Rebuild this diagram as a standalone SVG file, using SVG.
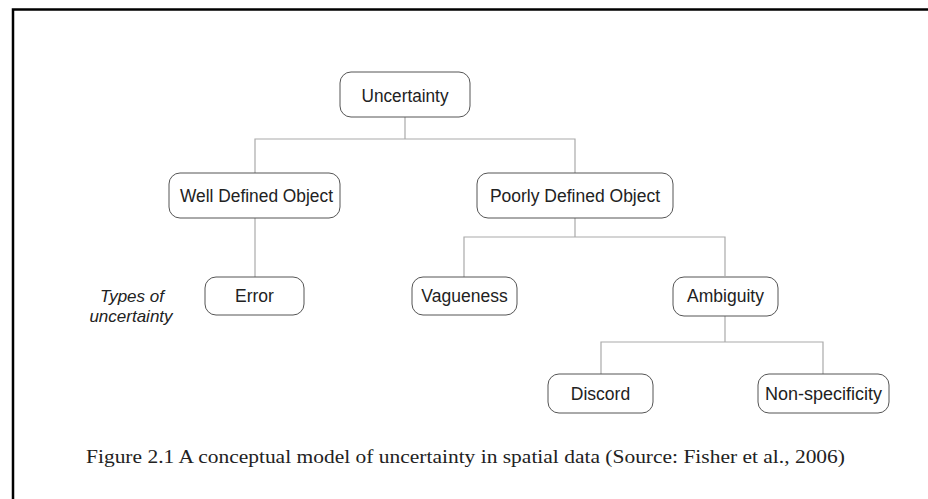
<svg xmlns="http://www.w3.org/2000/svg" width="928" height="499" viewBox="0 0 928 499">
<style>
.box{fill:#fff;stroke:#555;stroke-width:1}
.lbl{font-family:"Liberation Sans",Arial,sans-serif;font-size:17.5px;fill:#222;text-anchor:middle}
.conn{fill:none;stroke:#aaa;stroke-width:1.2}
</style>
<rect x="0" y="0" width="928" height="499" fill="#fff"/>
<path d="M13 499 V9.5 H928" fill="none" stroke="#000" stroke-width="2.5"/>
<g id="connectors" class="conn">
<path d="M405 117 V139 M255 173 V139 H575 V173"/>
<path d="M255 218 V277"/>
<path d="M575 218 V237 M464 277 V237 H725 V276"/>
<path d="M725 316 V342 M601 374 V342 H823 V374"/>
</g>
<g id="uncertainty"><rect class="box" x="340" y="72" width="130" height="45" rx="11"/><text class="lbl" x="405" y="101.5" textLength="87" lengthAdjust="spacingAndGlyphs">Uncertainty</text></g>
<g id="well-defined"><rect class="box" x="169" y="173" width="171" height="45" rx="11"/><text class="lbl" x="256.5" y="202" textLength="153" lengthAdjust="spacingAndGlyphs">Well Defined Object</text></g>
<g id="poorly-defined"><rect class="box" x="477" y="173" width="196" height="45" rx="11"/><text class="lbl" x="575" y="202">Poorly Defined Object</text></g>
<g id="error"><rect class="box" x="205" y="277" width="99" height="38" rx="11"/><text class="lbl" x="254.5" y="302">Error</text></g>
<g id="vagueness"><rect class="box" x="412" y="277" width="105" height="38" rx="11"/><text class="lbl" x="464.5" y="302">Vagueness</text></g>
<g id="ambiguity"><rect class="box" x="673" y="277" width="105" height="39" rx="11"/><text class="lbl" x="725.5" y="302">Ambiguity</text></g>
<g id="discord"><rect class="box" x="548" y="374" width="105" height="39" rx="11"/><text class="lbl" x="600.5" y="399.5">Discord</text></g>
<g id="non-specificity"><rect class="box" x="758" y="374" width="131" height="39" rx="11"/><text class="lbl" x="823.5" y="399.5" textLength="117" lengthAdjust="spacingAndGlyphs">Non-specificity</text></g>
<g id="types-label" font-family="'Liberation Sans',Arial,sans-serif" font-size="17" font-style="italic" fill="#222" text-anchor="middle">
<text x="132" y="302">Types of</text>
<text x="131" y="322">uncertainty</text>
</g>
<text x="86" y="463" font-family="'Liberation Serif','Times New Roman',serif" font-size="19.5" fill="#222" textLength="759" lengthAdjust="spacingAndGlyphs">Figure 2.1 A conceptual model of uncertainty in spatial data (Source: Fisher et al., 2006)</text>
</svg>
